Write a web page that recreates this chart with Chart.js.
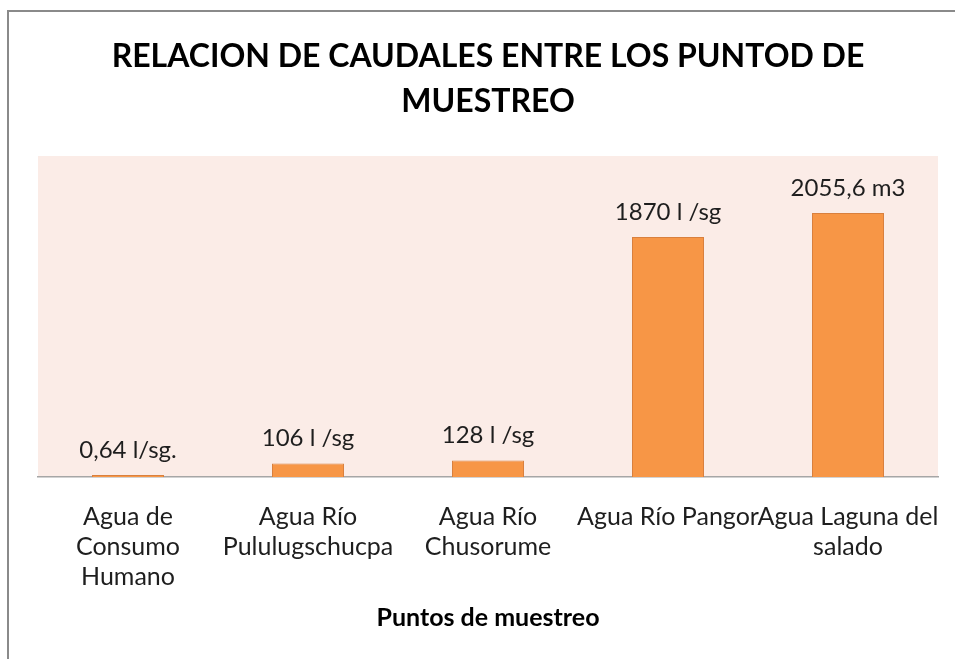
<!DOCTYPE html>
<html>
<head>
<meta charset="utf-8">
<script src="https://cdn.jsdelivr.net/npm/chart.js@4/dist/chart.umd.min.js"></script>
<style>
  html, body { margin: 0; padding: 0; background: #fff; }
  .frame { position: absolute; left: 7px; top: 10px; width: 960px; height: 660px;
           border-top: 2px solid #8a8a8a; border-left: 2px solid #8a8a8a; }
  #chart { position: absolute; left: 0; top: 0; }
</style>
</head>
<body>
<div class="frame"></div>
<canvas id="chart" width="955" height="659"></canvas>
<script>
// categories, values and the text shown above each bar
const categories = [
  ['Agua de', 'Consumo', 'Humano'],
  ['Agua Río', 'Pululugschucpa'],
  ['Agua Río', 'Chusorume'],
  'Agua Río Pangor',
  ['Agua Laguna del', 'salado']
];
const caudales = [0.64, 106, 128, 1870, 2055.6];
const valueLabels = ['0,64 l/sg.', '106 l /sg', '128 l /sg', '1870 l /sg', '2055,6 m3'];
const yTicks = [0, 500, 1000, 1500, 2000, 2500];

const FONT = 'Lato, "Open Sans", sans-serif';

// pink plot area background
const plotBg = {
  id: 'plotBg',
  beforeDraw(chart) {
    const { ctx, chartArea: a } = chart;
    ctx.save();
    ctx.fillStyle = '#fbece7';
    ctx.fillRect(a.left, a.top, a.right - a.left, a.bottom - a.top);
    ctx.restore();
  }
};

// value text above the bars
const barLabels = {
  id: 'barLabels',
  afterDatasetsDraw(chart) {
    const { ctx } = chart;
    const meta = chart.getDatasetMeta(0);
    ctx.save();
    ctx.font = '24px ' + FONT;
    ctx.fillStyle = '#1e1e1e';
    ctx.textAlign = 'center';
    ctx.textBaseline = 'middle';
    meta.data.forEach((bar, i) => {
      ctx.fillText(valueLabels[i], bar.x, bar.y - 25);
    });
    ctx.restore();
  }
};

new Chart(document.getElementById('chart'), {
  type: 'bar',
  data: {
    labels: categories,
    datasets: [{
      data: caudales,
      backgroundColor: '#f79646',
      borderColor: '#d9803e',
      borderWidth: 1,
      minBarLength: 2,
      categoryPercentage: 1,
      barPercentage: 0.4
    }]
  },
  options: {
    responsive: false,
    devicePixelRatio: 1,
    animation: false,
    layout: { padding: { left: 38, right: 17, top: 0, bottom: 0 } },
    plugins: {
      legend: { display: false },
      tooltip: { enabled: false },
      title: {
        display: true,
        text: ['RELACION DE CAUDALES ENTRE LOS PUNTOD DE', 'MUESTREO'],
        color: '#000',
        font: { family: FONT, size: 32, weight: 'bold', lineHeight: 1.4 },
        padding: { top: 34.6, bottom: 31.8 }
      }
    },
    scales: {
      x: {
        grid: { display: false, drawTicks: false },
        border: { display: true, color: '#a6a6a6', width: 1.5 },
        ticks: {
          color: '#1e1e1e',
          font: { family: FONT, size: 25, lineHeight: 1.2 },
          padding: 25,
          maxRotation: 0,
          autoSkip: false
        },
        title: {
          display: true,
          text: 'Puntos de muestreo',
          color: '#000',
          font: { family: FONT, size: 25, weight: 'bold', lineHeight: 1.2 },
          padding: { top: 10, bottom: 26 }
        },
        afterFit(scale) {
          scale.height = 182;
          scale.paddingLeft = 0;
          scale.paddingRight = 0;
        }
      },
      y: {
        display: false,
        min: yTicks[0],
        max: yTicks[yTicks.length - 1],
        afterBuildTicks(scale) { scale.ticks = yTicks.map(v => ({ value: v })); }
      }
    }
  },
  plugins: [plotBg, barLabels]
});
</script>
</body>
</html>
